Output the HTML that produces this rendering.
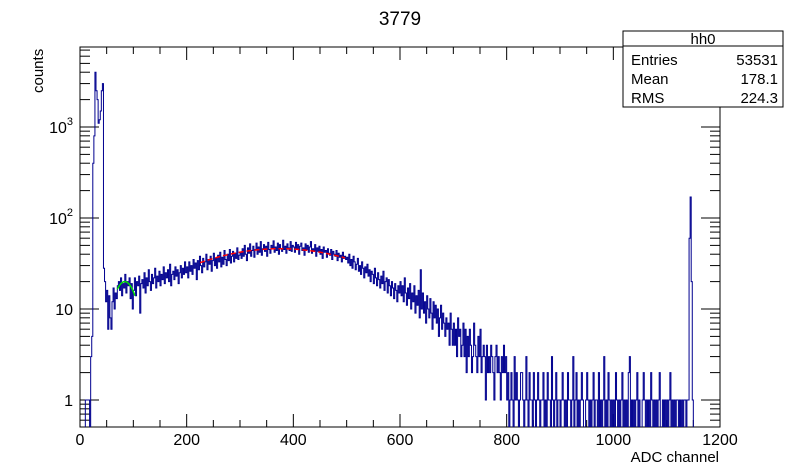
<!DOCTYPE html>
<html><head><meta charset="utf-8"><style>
body{margin:0;background:#fff;}
svg{display:block;font-family:"Liberation Sans",sans-serif;}
</style></head><body>
<svg id="c" width="800" height="475" xmlns="http://www.w3.org/2000/svg">
<text x="400" y="25" font-size="19" text-anchor="middle">3779</text>
<text transform="translate(43,93) rotate(-90)" font-size="15">counts</text>
<text x="719" y="462" font-size="15" text-anchor="end">ADC channel</text>
<g id="axes"></g>
<g id="plot"></g>
<g>
<rect x="623" y="31" width="160" height="76" fill="#fff" stroke="#000" stroke-width="1"/>
<line x1="623" y1="46" x2="783" y2="46" stroke="#000"/>
<text x="703" y="44" font-size="15" text-anchor="middle">hh0</text>
<text x="631" y="65" font-size="15">Entries</text>
<text x="778" y="65" font-size="15" text-anchor="end">53531</text>
<text x="631" y="84" font-size="15">Mean</text>
<text x="778" y="84" font-size="15" text-anchor="end">178.1</text>
<text x="631" y="103" font-size="15">RMS</text>
<text x="778" y="103" font-size="15" text-anchor="end">224.3</text>
</g>
</svg>
<script>
const binWidth = 2;
const counts = [
0,0,0,0,0,1,1,1,1,0, 3,5,400,800, 4000,2500,2000,1100,1200,1500,2500,3000,
28,20,12,16,6,14,8,6,12,17,10,15,13,18,20,16,22,14,19,17,24,15,20,18,22,13,19,10,
16,22,14,20,18,23,9,19,21,17,25,15,22,18,27,20,16,24,19,22,28,17,23,20,26,18,24,21,29,19,25,22,27,20,31,18,24,26,21,29,23,27,19,25,30,22,28,24,33,25,
29,22,33,26,30,24,35,28,32,21,34,27,38,30,25,36,29,33,40,27,35,31,38,26,34,41,30,36,28,39,33,42,29,37,31,44,35,30,40,34,45,32,38,43,33,41,36,47,35,39,
42,36,46,38,50,40,34,47,41,52,38,44,49,37,45,53,40,48,42,55,39,46,51,43,49,38,54,45,41,50,47,56,42,48,44,53,40,51,46,43,57,45,49,41,52,47,44,55,43,50,
48,42,54,46,51,40,49,53,44,47,39,52,45,50,42,48,55,41,46,44,51,38,47,43,49,40,45,36,48,42,44,37,46,41,39,45,35,43,40,38,44,34,41,37,39,33,42,36,38,35,
37,32,40,30,35,28,38,33,27,31,36,26,30,24,33,28,22,29,25,31,23,27,20,26,24,19,28,22,18,25,21,17,23,19,26,16,20,22,15,21,18,14,20,17,13,19,16,12,18,15,
20,14,18,12,22,15,11,17,13,19,10,15,12,18,9,14,11,16,8,27,10,15,9,12,7,14,10,8,13,9,6,12,8,11,7,10,5,8,11,6,9,7,5,8,6,7,4,9,6,4,
7,4,6,3,8,5,6,3,4,7,3,6,2,5,3,6,4,2,3,7,4,3,2,5,3,6,2,3,4,3,1,4,2,3,2,4,3,2,1,3,4,2,3,2,1,3,2,4,2,3,
1,2,0,1,2,1,0,3,1,2,1,0,1,2,2,1,0,1,3,1,0,2,1,1,0,2,1,0,1,2,1,0,1,1,2,0,1,0,2,1,1,0,3,1,0,1,2,0,1,1,
0,1,2,1,0,1,0,2,1,1,0,1,3,0,1,2,0,1,0,1,2,1,0,0,1,2,1,0,1,0,1,2,0,1,1,0,2,0,1,0,1,3,0,1,0,2,1,0,1,0,
1,0,2,1,0,1,0,1,2,0,1,0,1,0,2,3,0,1,0,1,0,1,2,0,1,0,0,1,2,1,0,1,0,1,0,2,1,0,1,0,1,0,1,2,0,0,1,0,1,0,
1,0,1,2,0,1,0,1,0,1,1,0,1,0,1,0,1,1,0,1,1,60,170,20,1,0,0,0,0,0];
const xTicks = [0,200,400,600,800,1000,1200];
const yDecades = [1,10,100,1000];
const redFit = [46,375,178,225,497];   // amp, mean, sigma, from, to
const greenFit = [20,84,22.5,70,103];

const L=80,R=720,T=47,B=427;
const xMin=0,xMax=1200, yZero=400, decPx=91;
const X=v=>L+(v-xMin)/(xMax-xMin)*(R-L);
const Y=v=>v<=0?B+5:yZero-Math.log10(v)*decPx;
const NS="http://www.w3.org/2000/svg";
function mk(tag,attrs,parent){const e=document.createElementNS(NS,tag);for(const k in attrs)e.setAttribute(k,attrs[k]);parent.appendChild(e);return e;}
const axes=document.getElementById('axes'), plot=document.getElementById('plot');
const svg=document.getElementById('c');
const defs=mk('defs',{},svg);
const cp=mk('clipPath',{id:'clip'},defs);
mk('rect',{x:L,y:T,width:R-L,height:B-T},cp);
plot.setAttribute('clip-path','url(#clip)');

let d='M'+X(0)+','+(B+5);
counts.forEach((c,i)=>{const y=Y(c);d+=' L'+X(i*binWidth).toFixed(2)+','+y.toFixed(2)+' L'+X((i+1)*binWidth).toFixed(2)+','+y.toFixed(2);});
d+=' L'+X(counts.length*binWidth)+','+(B+5);
const h=mk('path',{d:d,fill:'none',stroke:'#00008f','stroke-width':1},plot);



function fit(p,color,name,dash){let s='';for(let x=p[3];x<=p[4];x+=1){const v=p[0]*Math.exp(-((x-p[1])**2)/(2*p[2]*p[2]));s+=(s?' L':'M')+X(x).toFixed(2)+','+Y(v).toFixed(2);}
const e=mk('path',{d:s,fill:'none',stroke:color,'stroke-width':1.5},plot);if(dash)e.setAttribute('stroke-dasharray',dash);

}
fit(redFit,'#ff0000','red-fit-curve','5 3');
fit(greenFit,'#00dd00','green-fit-curve');

const f=mk('rect',{x:L,y:T,width:R-L,height:B-T,fill:'none',stroke:'#000','stroke-width':1},axes);


for(let v=0;v<=1200;v+=50){const maj=v%200===0;const len=maj?13:7;const x=X(v);
mk('line',{x1:x,y1:B,x2:x,y2:B-len,stroke:'#000'},axes);
mk('line',{x1:x,y1:T,x2:x,y2:T+len,stroke:'#000'},axes);}
xTicks.forEach(v=>{const t=mk('text',{x:X(v),y:B+18,'font-size':16,'text-anchor':'middle'},axes);t.textContent=v;

});
for(let e=-1;e<=3;e++){for(let m=1;m<=9;m++){const v=m*Math.pow(10,e);const y=Y(v);if(y<T||y>B)continue;const len=m===1?19:10;
mk('line',{x1:L,y1:y,x2:L+len,y2:y,stroke:'#000'},axes);
mk('line',{x1:R,y1:y,x2:R-len,y2:y,stroke:'#000'},axes);}}
yDecades.forEach(v=>{const y=Y(v);const e=Math.round(Math.log10(v));const t=mk('text',{x:73,y:y+6,'font-size':16,'text-anchor':'end'},axes);
if(e<=1){t.textContent=v;}else{t.textContent='10';const s=mk('tspan',{'font-size':11,dy:-8},t);s.textContent=e;}

});
</script>
</body></html>
